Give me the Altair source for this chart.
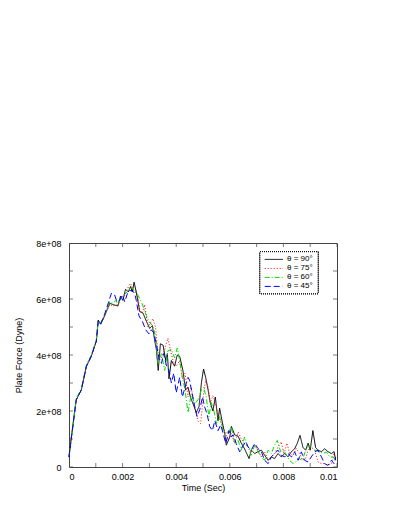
import altair as alt
import pandas as pd

series_names = ["θ = 90°", "θ = 75°", "θ = 60°", "θ = 45°"]
series_colors = ["#000000", "#ff0000", "#00e000", "#0000ff"]
series_dashes = [[1, 0], [1, 2], [5, 2, 1, 2], [6, 3]]

t90 = [0, 0.00009, 0.00027, 0.00046, 0.00065, 0.00083, 0.00102, 0.00109, 0.00118, 0.00133,
       0.00152, 0.00164, 0.00183, 0.00192, 0.00201, 0.00211, 0.00221, 0.00230, 0.00236, 0.00243,
       0.00251, 0.00264, 0.00276, 0.00289, 0.00301, 0.00311, 0.00320, 0.00326, 0.00333, 0.00341,
       0.00351, 0.00361, 0.00367, 0.00373, 0.00382, 0.00394, 0.00404, 0.00413, 0.00425, 0.00435,
       0.00444, 0.00453, 0.00463, 0.00475, 0.00485, 0.00494, 0.00502, 0.00510, 0.00519, 0.00527,
       0.00537, 0.00546, 0.00556, 0.00562, 0.00572, 0.00581, 0.00587, 0.00600, 0.00606, 0.00618,
       0.00631, 0.00643, 0.00655, 0.00672, 0.00680, 0.00693, 0.00705, 0.00718, 0.00730, 0.00743,
       0.00755, 0.00767, 0.00780, 0.00792, 0.00805, 0.00817, 0.00830, 0.00842, 0.00852, 0.00862,
       0.00873, 0.00883, 0.00892, 0.00900, 0.00910, 0.00920, 0.00929, 0.00942, 0.00954, 0.00966,
       0.00979, 0.00989, 0.00995]
f90 = [0.36e8, 1.07e8, 2.4e8, 2.75e8, 3.6e8, 3.95e8, 4.5e8, 5.25e8, 5.1e8, 5.4e8,
       5.85e8, 5.8e8, 5.75e8, 6.1e8, 5.95e8, 6.35e8, 6.25e8, 6.45e8, 6.25e8, 6.6e8,
       6.25e8, 5.55e8, 5.5e8, 5.2e8, 4.95e8, 5.05e8, 4.5e8, 4.2e8, 3.45e8, 4.4e8,
       4.35e8, 3.8e8, 4.05e8, 3.15e8, 3.8e8, 3.6e8, 4.0e8, 3.95e8, 3.45e8, 2.75e8,
       2.85e8, 2.5e8, 2.25e8, 1.95e8, 2.15e8, 3.0e8, 3.5e8, 3.2e8, 2.75e8, 2.3e8,
       2.0e8, 2.5e8, 1.65e8, 2.1e8, 1.6e8, 1.2e8, 0.78e8, 1.07e8, 1.45e8, 1.15e8,
       1.1e8, 0.85e8, 0.65e8, 0.3e8, 0.6e8, 0.48e8, 0.55e8, 0.6e8, 0.42e8, 0.24e8,
       0.36e8, 0.3e8, 0.48e8, 0.36e8, 0.48e8, 0.36e8, 0.55e8, 0.65e8, 0.85e8, 1.13e8,
       0.7e8, 0.6e8, 0.85e8, 0.6e8, 1.3e8, 0.7e8, 0.6e8, 0.55e8, 0.65e8, 0.55e8,
       0.48e8, 0.55e8, 0.24e8]

t75 = [0, 0.00009, 0.00027, 0.00046, 0.00065, 0.00083, 0.00102, 0.00109, 0.00118, 0.00133,
       0.00152, 0.00164, 0.00183, 0.00192, 0.00201, 0.00214, 0.00224, 0.00230, 0.00236, 0.00245,
       0.00251, 0.00257, 0.00264, 0.00274, 0.00282, 0.00295, 0.00313, 0.00323, 0.00328, 0.00336,
       0.00345, 0.00357, 0.00369, 0.00378, 0.00388, 0.00400, 0.00413, 0.00423, 0.00433, 0.00444,
       0.00456, 0.00469, 0.00481, 0.00491, 0.00502, 0.00510, 0.00519, 0.00527, 0.00537, 0.00546,
       0.00556, 0.00568, 0.00581, 0.00593, 0.00606, 0.00618, 0.00631, 0.00643, 0.00655, 0.00668,
       0.00680, 0.00693, 0.00705, 0.00718, 0.00730, 0.00743, 0.00755, 0.00767, 0.00780, 0.00792,
       0.00802, 0.00813, 0.00823, 0.00836, 0.00848, 0.00861, 0.00871, 0.00883, 0.00892, 0.00904,
       0.00917, 0.00929, 0.00942, 0.00954, 0.00966, 0.00979, 0.00989, 0.00995]
f75 = [0.4e8, 1.1e8, 2.4e8, 2.8e8, 3.6e8, 3.95e8, 4.5e8, 5.2e8, 5.1e8, 5.4e8,
       5.8e8, 5.75e8, 5.8e8, 6.05e8, 6.0e8, 6.25e8, 6.5e8, 6.55e8, 6.4e8, 6.25e8,
       6.25e8, 6.1e8, 5.6e8, 5.5e8, 5.8e8, 5.0e8, 5.3e8, 5.0e8, 4.5e8, 3.8e8,
       3.9e8, 4.2e8, 4.6e8, 4.2e8, 3.8e8, 3.6e8, 3.8e8, 3.15e8, 3.35e8, 2.5e8,
       2.85e8, 2.15e8, 1.65e8, 1.55e8, 2.6e8, 3.1e8, 2.85e8, 2.3e8, 2.55e8, 2.3e8,
       1.85e8, 1.55e8, 1.3e8, 0.95e8, 1.2e8, 0.84e8, 1.25e8, 1.0e8, 0.84e8, 0.72e8,
       0.54e8, 0.78e8, 0.6e8, 0.36e8, 0.54e8, 0.24e8, 0.36e8, 0.48e8, 0.72e8, 0.9e8,
       0.45e8, 0.85e8, 0.5e8, 0.4e8, 0.66e8, 0.48e8, 0.24e8, 0.3e8, 0.6e8, 0.72e8,
       0.6e8, 0.18e8, 0.12e8, 0.12e8, 0.06e8, 0.12e8, 0.48e8, 0.24e8]

t60 = [0, 0.00009, 0.00027, 0.00046, 0.00065, 0.00083, 0.00102, 0.00109, 0.00118, 0.00133,
       0.00152, 0.00164, 0.00175, 0.00183, 0.00192, 0.00201, 0.00211, 0.00221, 0.00230, 0.00254,
       0.00270, 0.00289, 0.00301, 0.00313, 0.00323, 0.00332, 0.00345, 0.00357, 0.00369, 0.00382,
       0.00394, 0.00404, 0.00413, 0.00423, 0.00433, 0.00444, 0.00456, 0.00469, 0.00481, 0.00494,
       0.00502, 0.00512, 0.00522, 0.00531, 0.00540, 0.00550, 0.00562, 0.00575, 0.00587, 0.00597,
       0.00606, 0.00618, 0.00631, 0.00643, 0.00655, 0.00668, 0.00680, 0.00693, 0.00705, 0.00718,
       0.00730, 0.00743, 0.00755, 0.00767, 0.00777, 0.00790, 0.00801, 0.00813, 0.00823, 0.00836,
       0.00846, 0.00858, 0.00871, 0.00883, 0.00896, 0.00908, 0.00920, 0.00935, 0.00948, 0.00960,
       0.00973, 0.00985, 0.00995]
f60 = [0.38e8, 1.1e8, 2.45e8, 2.8e8, 3.65e8, 4.0e8, 4.55e8, 5.2e8, 5.15e8, 5.45e8,
       5.9e8, 5.85e8, 5.95e8, 5.8e8, 6.0e8, 6.05e8, 6.2e8, 6.3e8, 6.45e8, 6.2e8,
       5.9e8, 5.4e8, 5.15e8, 5.05e8, 4.65e8, 3.7e8, 4.05e8, 3.45e8, 4.15e8, 4.2e8,
       3.9e8, 4.25e8, 3.8e8, 3.2e8, 2.75e8, 1.95e8, 2.6e8, 2.25e8, 2.4e8, 2.75e8,
       2.85e8, 2.5e8, 1.8e8, 2.3e8, 2.05e8, 1.55e8, 1.8e8, 1.3e8, 1.2e8, 1.3e8,
       1.45e8, 0.84e8, 0.95e8, 0.6e8, 1.07e8, 0.72e8, 0.42e8, 0.78e8, 0.54e8, 0.36e8,
       0.24e8, 0.6e8, 0.48e8, 0.78e8, 0.95e8, 0.54e8, 0.6e8, 0.4e8, 0.24e8, 0.12e8,
       0.18e8, 0.3e8, 0.24e8, 0.6e8, 0.78e8, 0.66e8, 0.6e8, 0.54e8, 0.48e8, 0.54e8,
       0.36e8, 0.36e8, 0.24e8]

t45 = [0, 0.00009, 0.00027, 0.00046, 0.00065, 0.00083, 0.00102, 0.00109, 0.00118, 0.00133,
       0.00158, 0.00170, 0.00179, 0.00189, 0.00199, 0.00208, 0.00218, 0.00226, 0.00236, 0.00245,
       0.00251, 0.00261, 0.00274, 0.00286, 0.00299, 0.00307, 0.00316, 0.00326, 0.00336, 0.00345,
       0.00353, 0.00363, 0.00373, 0.00382, 0.00391, 0.00400, 0.00413, 0.00423, 0.00433, 0.00444,
       0.00450, 0.00460, 0.00469, 0.00478, 0.00488, 0.00498, 0.00506, 0.00515, 0.00525, 0.00535,
       0.00544, 0.00556, 0.00566, 0.00575, 0.00585, 0.00597, 0.00606, 0.00612, 0.00624, 0.00637,
       0.00647, 0.00659, 0.00668, 0.00680, 0.00693, 0.00705, 0.00718, 0.00730, 0.00743, 0.00755,
       0.00767, 0.00780, 0.00792, 0.00805, 0.00817, 0.00830, 0.00842, 0.00855, 0.00867, 0.00879,
       0.00892, 0.00904, 0.00917, 0.00929, 0.00942, 0.00954, 0.00966, 0.00979, 0.00989, 0.00995]
f45 = [0.35e8, 1.05e8, 2.4e8, 2.75e8, 3.6e8, 3.95e8, 4.5e8, 5.2e8, 5.1e8, 5.45e8,
       6.2e8, 6.15e8, 5.9e8, 5.95e8, 6.15e8, 5.9e8, 6.2e8, 6.3e8, 6.3e8, 6.2e8,
       5.95e8, 5.4e8, 5.2e8, 4.9e8, 4.75e8, 4.9e8, 4.8e8, 4.4e8, 3.85e8, 3.7e8,
       4.05e8, 3.65e8, 3.45e8, 3.0e8, 3.35e8, 2.65e8, 3.2e8, 2.5e8, 2.85e8, 3.2e8,
       3.1e8, 2.6e8, 2.15e8, 1.8e8, 2.05e8, 2.5e8, 2.15e8, 1.9e8, 1.45e8, 1.3e8,
       1.65e8, 1.3e8, 1.5e8, 1.2e8, 0.84e8, 1.3e8, 1.07e8, 1.15e8, 0.84e8, 0.54e8,
       0.72e8, 0.9e8, 0.72e8, 0.6e8, 0.84e8, 0.66e8, 0.54e8, 0.24e8, 0.12e8, 0.36e8,
       0.48e8, 0.6e8, 0.42e8, 0.36e8, 0.48e8, 0.36e8, 0.54e8, 0.24e8, 0.54e8, 0.24e8,
       0.18e8, 0.36e8, 0.54e8, 0.6e8, 0.36e8, 0.12e8, 0.06e8, 0.24e8, 0.12e8, 0.36e8]

x_ticks = [0, 0.001, 0.002, 0.003, 0.004, 0.005, 0.006, 0.007, 0.008, 0.009, 0.01]
x_labels = [0, 0.002, 0.004, 0.006, 0.008, 0.01]
y_ticks = [0, 1e8, 2e8, 3e8, 4e8, 5e8, 6e8, 7e8, 8e8]
y_labels = [0, 2e8, 4e8, 6e8, 8e8]

frames = []
for name, ts, fs in [(series_names[0], t90, f90), (series_names[1], t75, f75),
                     (series_names[2], t60, f60), (series_names[3], t45, f45)]:
    frames.append(pd.DataFrame({"t": ts, "F": fs, "series": name}))
df = pd.concat(frames, ignore_index=True)
leg_df = pd.DataFrame({"series": series_names})

FONT = "Liberation Sans"
W, H = 268, 224

xscale = alt.Scale(domain=[0, 0.01], nice=False)
yscale = alt.Scale(domain=[0, 8e8], nice=False)
cscale = alt.Scale(domain=series_names, range=series_colors)
dscale = alt.Scale(domain=series_names, range=series_dashes)

lines = alt.Chart(df).mark_line(strokeWidth=1).encode(
    x=alt.X("t:Q", scale=xscale,
            axis=alt.Axis(title="Time (Sec)", values=x_labels,
                          labelExpr="format(datum.value, '~g')",
                          labelPadding=5, titlePadding=2)),
    y=alt.Y("F:Q", scale=yscale,
            axis=alt.Axis(title="Plate Force (Dyne)", values=y_labels,
                          labelExpr="datum.value == 0 ? '0' : format(datum.value / 1e8, 'd') + 'e+08'",
                          labelPadding=8, titlePadding=12)),
    color=alt.Color("series:N", scale=cscale, legend=None),
    strokeDash=alt.StrokeDash("series:N", scale=dscale, legend=None),
    order=alt.Order("t:Q"),
)

xt = pd.DataFrame({"v": x_ticks})
yt = pd.DataFrame({"v": y_ticks})

tick_kw = dict(clip=True, color="#444", size=8, thickness=1)
xtick_bottom = alt.Chart(xt).mark_tick(orient="vertical", **tick_kw).encode(
    x=alt.X("v:Q", scale=xscale), y=alt.value(H))
xtick_top = alt.Chart(xt).mark_tick(orient="vertical", **tick_kw).encode(
    x=alt.X("v:Q", scale=xscale), y=alt.value(0))
ytick_left = alt.Chart(yt).mark_tick(orient="horizontal", **tick_kw).encode(
    y=alt.Y("v:Q", scale=yscale), x=alt.value(0))
ytick_right = alt.Chart(yt).mark_tick(orient="horizontal", **tick_kw).encode(
    y=alt.Y("v:Q", scale=yscale), x=alt.value(W))

base = alt.layer(xtick_bottom, xtick_top, ytick_left, ytick_right, lines)

# legend drawn as a small box in the top-right of the plot area
leg_y = alt.Y("series:N", scale=alt.Scale(type="point", domain=series_names, range=[16.4, 43.4], padding=0),
              axis=None)
leg_box = alt.Chart(leg_df).mark_rect(
    fill="#ffffff", stroke="#000000", strokeWidth=1, strokeDash=[1, 1]
).encode(x=alt.value(191), x2=alt.value(249), y=alt.value(8.7), y2=alt.value(50.7))
leg_sym = alt.Chart(leg_df).mark_rule(strokeWidth=1).encode(
    x=alt.value(195.7), x2=alt.value(214), y=leg_y,
    color=alt.Color("series:N", scale=cscale, legend=None),
    strokeDash=alt.StrokeDash("series:N", scale=dscale, legend=None),
)
leg_txt = alt.Chart(leg_df).mark_text(
    align="left", baseline="middle", font=FONT, fontSize=8, color="#000000"
).encode(x=alt.value(218), y=leg_y, text="series:N")
legend_layer = alt.layer(leg_box, leg_sym, leg_txt)

chart = alt.layer(base, legend_layer).resolve_scale(y="independent").properties(
    width=W, height=H,
    background="#ffffff",
    autosize=alt.AutoSizeParams(type="none"),
    padding={"left": 61, "top": 235, "right": 62, "bottom": 44},
).configure_view(
    stroke="#444", strokeWidth=1
).configure_axis(
    domain=False, ticks=False, grid=False,
    labelFont=FONT, labelFontSize=9, labelColor="#000000",
    titleFont=FONT, titleFontSize=9, titleFontWeight="normal", titleColor="#000000",
)

chart.save("out.html", embed_options={"renderer": "svg", "actions": False})
